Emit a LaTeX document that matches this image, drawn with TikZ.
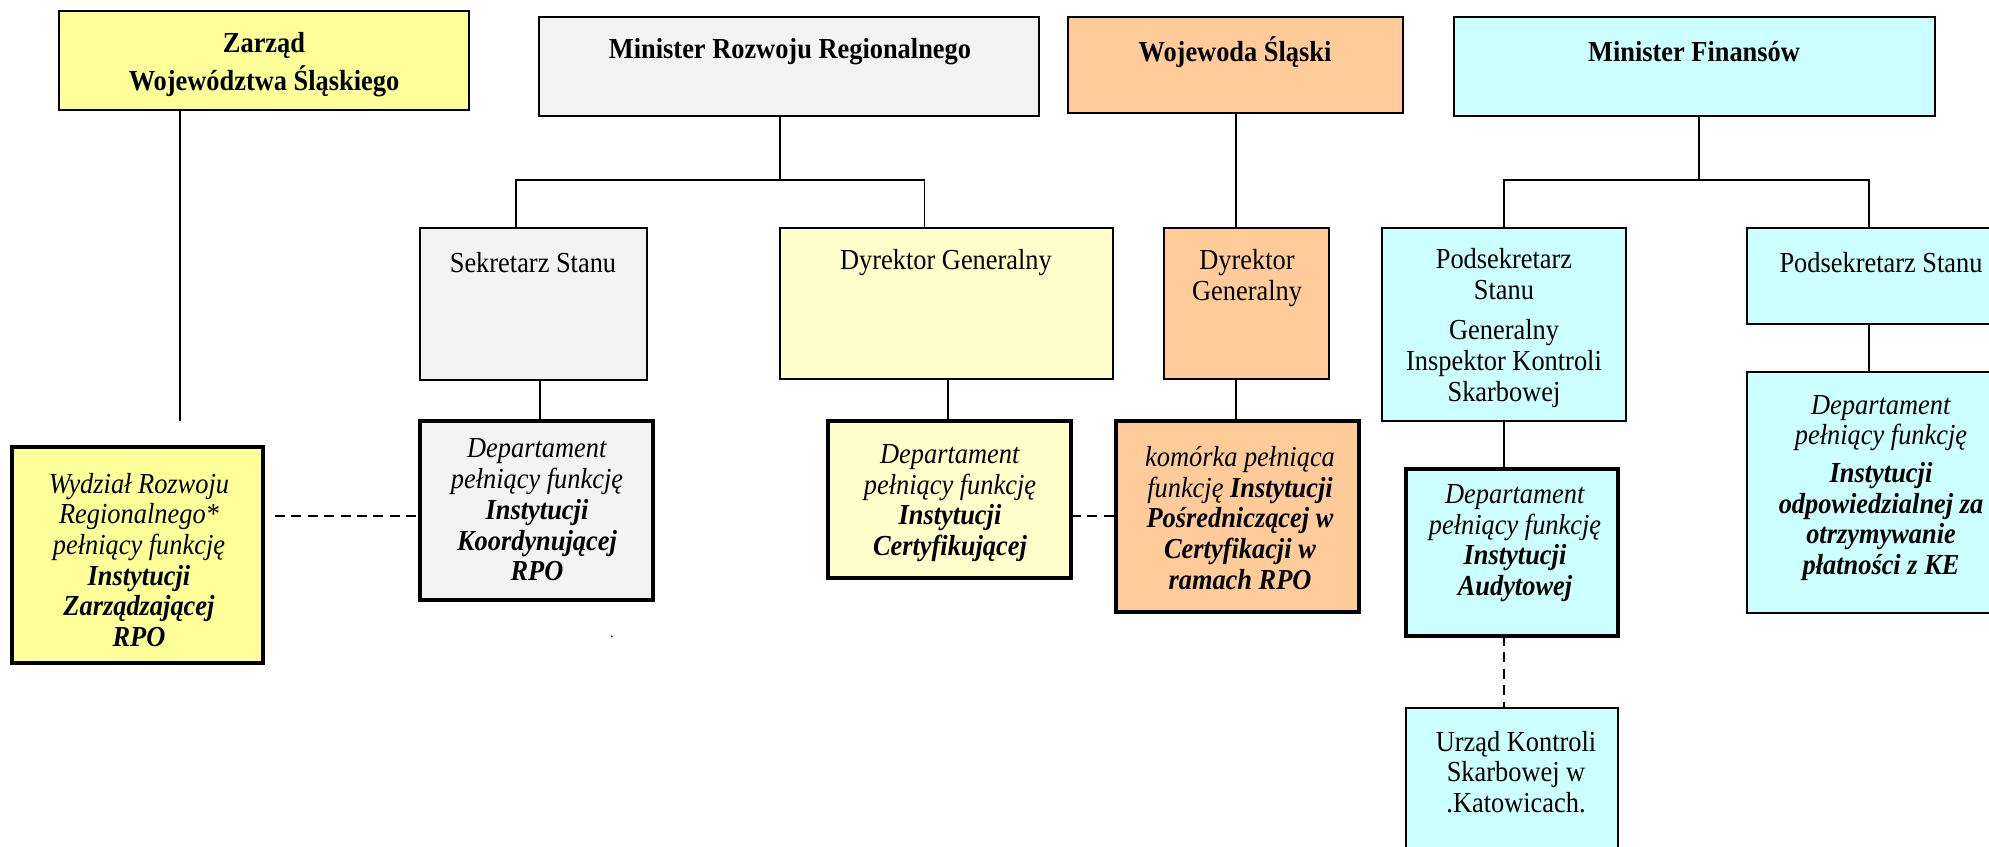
\documentclass[tikz,border=0pt]{standalone}
\usepackage{fontspec}
\setmainfont{Liberation Serif}[FakeStretch=0.91]
\usetikzlibrary{fit,calc}
\definecolor{cyel}{HTML}{FFFF99}
\definecolor{cpale}{HTML}{FFFFCC}
\definecolor{cgray}{HTML}{F3F3F3}
\definecolor{corange}{HTML}{FFCC99}
\definecolor{ccyan}{HTML}{CCFFFF}
\tikzset{
  box/.style={draw=black, line width=0.7pt, inner sep=0pt, outer sep=0pt},
  thickbox/.style={draw=black, line width=2.3pt, inner sep=0pt, outer sep=0pt},
  txt/.style={align=center, inner sep=0pt, font=\fontsize{14.5pt}{15.35pt}\selectfont},
  conn/.style={line width=0.65pt},
  dashconn/.style={line width=0.65pt, dash pattern=on 5pt off 3.2pt},
}
\begin{document}
\begin{tikzpicture}[x=0.5pt,y=-0.5pt]
\useasboundingbox (0,0) rectangle (1989,846);
\clip (0,0) rectangle (1989,846);
% top row
\node[box, fill=cyel, fit={(59,11) (469,110)}] (zarzad) {};
\node[box, fill=cgray, fit={(539,17) (1039,116)}] (mrr) {};
\node[box, fill=corange, fit={(1068,17) (1403,113)}] (woj) {};
\node[box, fill=ccyan, fit={(1454,17) (1935,116)}] (mf) {};
% second row
\node[box, fill=cgray, fit={(420,228) (647,380)}] (sek) {};
\node[box, fill=cpale, fit={(780,228) (1113,379)}] (dgy) {};
\node[box, fill=corange, fit={(1164,228) (1329,379)}] (dgo) {};
\node[box, fill=ccyan, fit={(1382,228) (1626,421)}] (psl) {};
\node[box, fill=ccyan, fit={(1747,228) (1998,324)}] (psr) {};
% third row
\node[thickbox, fill=cyel, fit={(12,447) (263,663)}] (wyd) {};
\node[thickbox, fill=cgray, fit={(420,421) (653,600)}] (koord) {};
\node[thickbox, fill=cpale, fit={(828,421) (1071,578)}] (cert) {};
\node[thickbox, fill=corange, fit={(1116,421) (1359,612)}] (kom) {};
\node[thickbox, fill=ccyan, fit={(1406,469) (1618,636)}] (aud) {};
\node[box, fill=ccyan, fit={(1747,372) (1998,613)}] (rdep) {};
\node[box, fill=ccyan, fit={(1406,708) (1618,870)}] (urz) {};

% texts
\node[txt] (zarzad-t) at (264,65) {\textbf{Zarząd}\\[2.6pt]\textbf{Województwa Śląskiego}};
\node[txt] (mrr-t) at (790,52) {\textbf{Minister Rozwoju Regionalnego}};
\node[txt] (woj-t) at (1235,52) {\textbf{Wojewoda Śląski}};
\node[txt] (mf-t) at (1694,52) {\textbf{Minister Finansów}};
\node[txt] (sek-t) at (533,263) {Sekretarz Stanu};
\node[txt] (dgy-t) at (946,263) {Dyrektor Generalny};
\node[txt] (dgo-t) at (1247,278) {Dyrektor\\Generalny};
\node[txt] (psl-t) at (1504,328) {Podsekretarz\\Stanu\\[5pt]Generalny\\Inspektor Kontroli\\Skarbowej};
\node[txt] (psr-t) at (1881,263) {Podsekretarz Stanu};
\node[txt] (wyd-t) at (139,560) {\textit{Wydział Rozwoju}\\\textit{Regionalnego*}\\\textit{pełniący funkcję}\\\textbf{\textit{Instytucji}}\\\textbf{\textit{Zarządzającej}}\\\textbf{\textit{RPO}}};
\node[txt] (koord-t) at (537,510) {\textit{Departament}\\\textit{pełniący funkcję}\\\textbf{\textit{Instytucji}}\\\textbf{\textit{Koordynującej}}\\\textbf{\textit{RPO}}};
\node[txt] (cert-t) at (950,503) {\textit{Departament}\\\textit{pełniący funkcję}\\\textbf{\textit{Instytucji}}\\\textbf{\textit{Certyfikującej}}};
\node[txt] (kom-t) at (1240,518) {\textit{komórka pełniąca}\\\textit{funkcję }\textbf{\textit{Instytucji}}\\\textbf{\textit{Pośredniczącej w}}\\\textbf{\textit{Certyfikacji w}}\\\textbf{\textit{ramach RPO}}};
\node[txt] (aud-t) at (1515,543) {\textit{Departament}\\\textit{pełniący funkcję}\\\textbf{\textit{Instytucji}}\\\textbf{\textit{Audytowej}}};
\node[txt] (rdep-t) at (1881,488) {\textit{Departament}\\\textit{pełniący funkcję}\\[3.5pt]\textbf{\textit{Instytucji}}\\\textbf{\textit{odpowiedzialnej za}}\\\textbf{\textit{otrzymywanie}}\\\textbf{\textit{płatności z KE}}};
\node[txt] (urz-t) at (1516,772) {Urząd Kontroli\\Skarbowej w\\.Katowicach.};
\node[txt, font=\fontsize{8pt}{9pt}\selectfont] (dot-t) at (612,637) {.};

% connector coordinates
\coordinate (zend) at (180,421);
\coordinate (mrrj) at (780,180);
\coordinate (jl) at (516,180);
\coordinate (jr) at (924.5,180);
\coordinate (sekx) at (540,0);
\coordinate (dgyx) at (948,0);
\coordinate (wojx) at (1236,0);
\coordinate (mfj) at (1699,180);
\coordinate (fl) at (1504,180);
\coordinate (fr) at (1869,180);
\coordinate (dashlevel) at (0,516);
\coordinate (dstart) at (275,516);

% connectors
\draw[conn] (zend |- zarzad.south) -- (zend);
\draw[conn] (mrrj |- mrr.south) -- (mrrj);
\draw[conn] (jl |- sek.north) -- (jl) -- (jr) -- (jr |- dgy.north);
\draw[conn] (sekx |- sek.south) -- (sekx |- koord.north);
\draw[conn] (dgyx |- dgy.south) -- (dgyx |- cert.north);
\draw[conn] (wojx |- woj.south) -- (wojx |- dgo.north);
\draw[conn] (wojx |- dgo.south) -- (wojx |- kom.north);
\draw[conn] (mfj |- mf.south) -- (mfj);
\draw[conn] (fl |- psl.north) -- (fl) -- (fr) -- (fr |- psr.north);
\draw[conn] (fl |- psl.south) -- (fl |- aud.north);
\draw[conn] (fr |- psr.south) -- (fr |- rdep.north);
\draw[dashconn] (fl |- aud.south) -- (fl |- urz.north);
\draw[dashconn] (dstart) -- (koord.west |- dashlevel);
\draw[dashconn] (cert.east |- dashlevel) -- (kom.west |- dashlevel);
\end{tikzpicture}
\end{document}
